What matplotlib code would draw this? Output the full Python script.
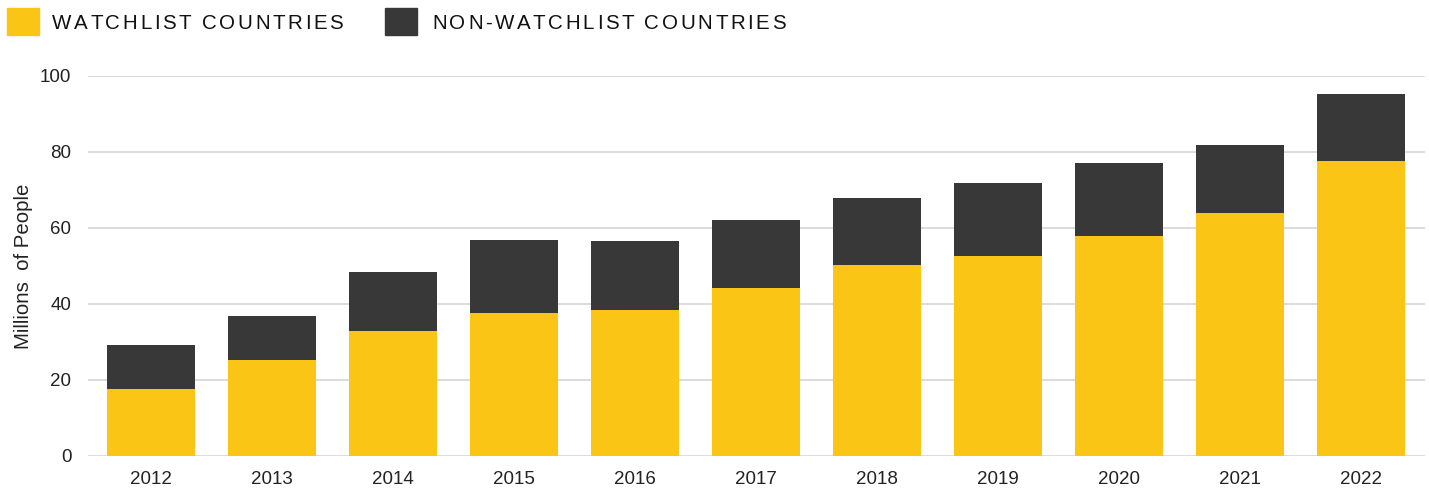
import numpy as np
import matplotlib.pyplot as plt
from matplotlib.patches import Rectangle
from matplotlib.font_manager import findfont, FontProperties
from matplotlib.ft2font import FT2Font

years = ['2012', '2013', '2014', '2015', '2016', '2017', '2018', '2019', '2020', '2021', '2022']
watchlist = [17.6, 25.1, 32.8, 37.6, 38.4, 44.2, 50.3, 52.6, 57.9, 64.0, 77.6]
totals = [29.2, 36.8, 48.4, 56.9, 56.6, 62.2, 68.0, 71.7, 77.2, 81.7, 95.2]
non_watchlist = [t - w for t, w in zip(totals, watchlist)]
series_names = ['WATCHLIST COUNTRIES', 'NON-WATCHLIST COUNTRIES']

plt.rcParams['font.family'] = ['Liberation Sans', 'DejaVu Sans']

W, H, DPI = 1429, 491, 100
fig = plt.figure(figsize=(W / DPI, H / DPI), dpi=DPI)
ax = fig.add_axes([88 / W, 1 - 455.7 / H, 1337 / W, 379.7 / H])

x = np.arange(len(years))
bar_width = 0.727
yellow = '#fbc516'
dark = '#383838'

ax.bar(x, watchlist, bar_width, color=yellow, zorder=3)
ax.bar(x, non_watchlist, bar_width, bottom=watchlist, color=dark, zorder=3)

ax.set_xlim(-0.52, 10.53)
ax.set_ylim(0, 100)
ax.set_yticks([0, 20, 40, 60, 80, 100])
ax.set_xticks(x)
ax.set_xticklabels(years)
ax.yaxis.grid(True, color='#d9d9d9', linewidth=1.3, zorder=0)
ax.set_axisbelow(True)
for s in ax.spines.values():
    s.set_visible(False)
ax.tick_params(axis='both', length=0, labelsize=13.5, colors='#222222')
ax.tick_params(axis='y', pad=12)
ax.tick_params(axis='x', pad=11)
ax.set_ylabel('Millions  of People', fontsize=14.7, color='#222222')
ax.yaxis.set_label_coords(-0.041, 0.5)


# legend at the top, letter-spaced text drawn char by char
def spaced_text(x_px, y_px, s, size, tracking_em, color):
    font = FT2Font(findfont(FontProperties(family='Liberation Sans')))
    font.set_size(size, DPI)
    px = size * DPI / 72.0
    pos = x_px
    for c in s:
        fig.text(pos / W, 1 - y_px / H, c, fontsize=size, color=color,
                 ha='left', va='baseline')
        g = font.load_char(ord(c))
        pos += g.linearHoriAdvance / 65536 + tracking_em * px


legend_colors = [yellow, dark]
square_x = [7, 385]
text_x = [52, 432]
for name, col, sx, tx in zip(series_names, legend_colors, square_x, text_x):
    fig.patches.append(Rectangle((sx / W, 1 - 35 / H), 32 / W, 27 / H,
                                 transform=fig.transFigure, color=col))
    spaced_text(tx, 29, name, 14.8, 0.125, '#111111')

fig.savefig('out.png', dpi=DPI)
